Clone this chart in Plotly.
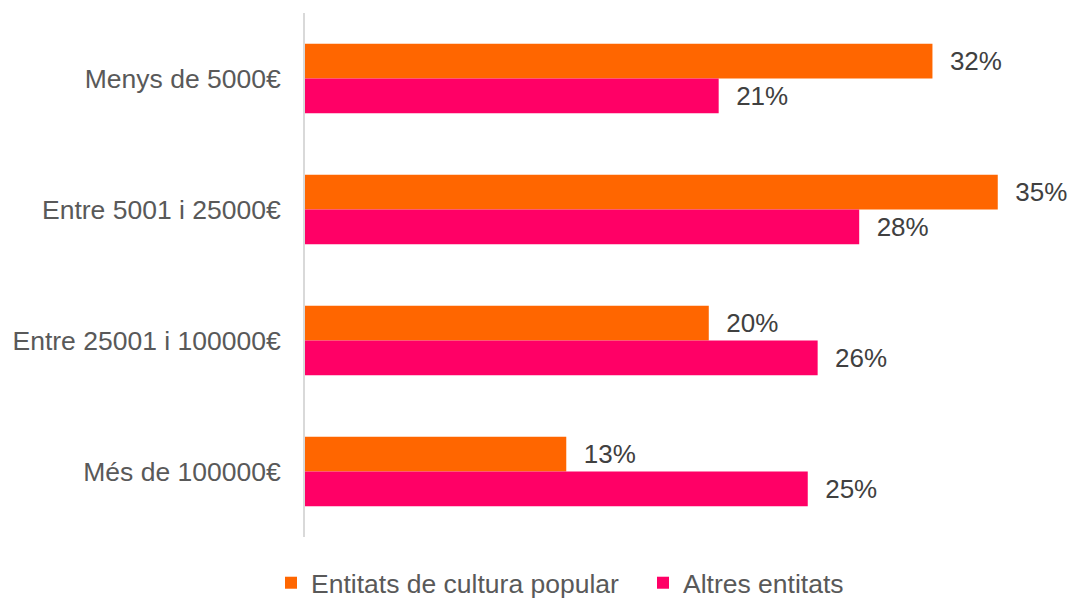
import plotly.graph_objects as go

categories = ["Menys de 5000€", "Entre 5001 i 25000€", "Entre 25001 i 100000€", "Més de 100000€"]
series_names = ["Entitats de cultura popular", "Altres entitats"]
cultura_popular = [31.7, 35.0, 20.4, 13.2]
altres = [20.9, 28.0, 25.9, 25.4]
colors = ["#FF6600", "#FF0066"]

W, H = 1071, 600

fig = go.Figure()
for name, vals, col in zip(series_names, [cultura_popular, altres], colors):
    fig.add_trace(go.Bar(
        y=categories, x=vals, name=name, orientation="h",
        marker=dict(color=col, line=dict(width=0)),
        text=["\u00a0\u00a0" + f"{round(v):.0f}%" for v in vals],
        textposition="outside", cliponaxis=False, constraintext="none",
        textfont=dict(family="Liberation Sans, Arial", size=26, color="#404040"),
    ))

fig.update_layout(
    width=W, height=H,
    margin=dict(l=305, r=0, t=13, b=63, autoexpand=False),
    barmode="group", bargap=0.47, bargroupgap=0,
    plot_bgcolor="white", paper_bgcolor="white",
    font=dict(family="Liberation Sans, Arial", size=26.5, color="#595959"),
    showlegend=True,
    legend=dict(orientation="h", xref="container", x=271 / W, xanchor="left",
                yref="container", y=17 / H, yanchor="middle",
                font=dict(size=26.5, color="#595959"), traceorder="normal",
                entrywidth=327, entrywidthmode="pixels",
                bgcolor="rgba(0,0,0,0)"),
    xaxis=dict(range=[0, 38.7], showgrid=False, showticklabels=False, zeroline=False, showline=False),
    yaxis=dict(autorange="reversed", showline=True, linecolor="#D9D9D9", linewidth=2,
               ticks="", ticklabelstandoff=17, showgrid=False, automargin=False,
               tickfont=dict(size=26.5, color="#595959")),
)
fig.write_html(
    "out.html",
    config={"displayModeBar": False},
    post_script="document.body.style.margin='0';document.body.style.overflow='hidden';",
)
